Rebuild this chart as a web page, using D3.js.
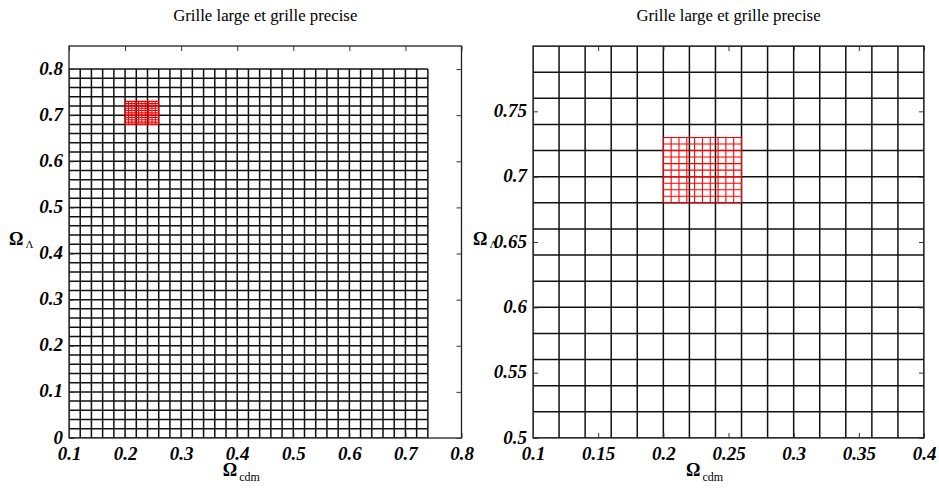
<!DOCTYPE html>
<html>
<head>
<meta charset="utf-8">
<script src="https://cdn.jsdelivr.net/npm/d3@7"></script>
<style>
  body { margin: 0; background: #fff; }
  svg { display: block; }
  svg text { font-family: "Liberation Serif", "Times New Roman", Times, "DejaVu Serif", "Noto Serif", serif; }
</style>
</head>
<body>
<svg id="chart" width="939" height="490"></svg>
<script>
// ---- data ----
const coarseX = [0.10,0.12,0.14,0.16,0.18,0.20,0.22,0.24,0.26,0.28,0.30,0.32,0.34,0.36,0.38,0.40,
                 0.42,0.44,0.46,0.48,0.50,0.52,0.54,0.56,0.58,0.60,0.62,0.64,0.66,0.68,0.70,0.72,0.74];
const coarseY = [0.00,0.02,0.04,0.06,0.08,0.10,0.12,0.14,0.16,0.18,0.20,0.22,0.24,0.26,0.28,0.30,
                 0.32,0.34,0.36,0.38,0.40,0.42,0.44,0.46,0.48,0.50,0.52,0.54,0.56,0.58,0.60,0.62,
                 0.64,0.66,0.68,0.70,0.72,0.74,0.76,0.78,0.80];
const fineX = [0.200,0.206,0.212,0.218,0.224,0.230,0.236,0.242,0.248,0.254,0.260];
const fineY = [0.680,0.685,0.690,0.695,0.700,0.705,0.710,0.715,0.720,0.725,0.730];

const leftXTicks = [0.1,0.2,0.3,0.4,0.5,0.6,0.7,0.8];
const leftYTicks = [0,0.1,0.2,0.3,0.4,0.5,0.6,0.7,0.8];
const rightXTicks = [0.1,0.15,0.2,0.25,0.3,0.35,0.4];
const rightYTicks = [0.5,0.55,0.6,0.65,0.7,0.75];
const leftXDomain = [0.1, 0.8], leftYDomain = [0, 0.85];
const rightXDomain = [0.1, 0.4], rightYDomain = [0.5, 0.8];
const titleText = "Grille large et grille precise";

// ---- drawing ----
const SERIF = '"Liberation Serif", "Times New Roman", Times, "DejaVu Serif", "Noto Serif", serif';
const svg = d3.select("#chart");
const defs = svg.append("defs");

function panel(id, x0, x1, y0, y1, xDom, yDom, xTicks, yTicks) {
  const x = d3.scaleLinear().domain(xDom).range([x0, x1]);
  const y = d3.scaleLinear().domain(yDom).range([y1, y0]);
  defs.append("clipPath").attr("id", "clip" + id)
    .append("rect").attr("x", x0).attr("y", y0).attr("width", x1 - x0).attr("height", y1 - y0);
  const g = svg.append("g");
  const plot = g.append("g").attr("clip-path", `url(#clip${id})`);

  function grid(xs, ys, color, w) {
    const gg = plot.append("g").attr("stroke", color).attr("stroke-width", w).attr("fill", "none");
    const xmin = d3.min(xs), xmax = d3.max(xs), ymin = d3.min(ys), ymax = d3.max(ys);
    gg.selectAll("line.v").data(xs).join("line").attr("class", "v")
      .attr("x1", d => x(d)).attr("x2", d => x(d)).attr("y1", y(ymin)).attr("y2", y(ymax));
    gg.selectAll("line.h").data(ys).join("line").attr("class", "h")
      .attr("y1", d => y(d)).attr("y2", d => y(d)).attr("x1", x(xmin)).attr("x2", x(xmax));
  }
  grid(coarseX, coarseY, "#111", 1.5);
  grid(fineX, fineY, "#ff0000", 1.1);

  // box
  g.append("rect").attr("x", x0).attr("y", y0).attr("width", x1 - x0).attr("height", y1 - y0)
    .attr("fill", "none").attr("stroke", "#222").attr("stroke-width", 1.3);

  // axes with inward ticks
  const tl = 5;
  const fmt = d => String(d);
  const bx = g.append("g").attr("transform", `translate(0,${y1})`)
    .call(d3.axisBottom(x).tickValues(xTicks).tickSizeInner(-tl).tickSizeOuter(0).tickPadding(9).tickFormat(fmt));
  const tx = g.append("g").attr("transform", `translate(0,${y0})`)
    .call(d3.axisTop(x).tickValues(xTicks).tickSizeInner(-tl).tickSizeOuter(0).tickFormat(""));
  const ly = g.append("g").attr("transform", `translate(${x0},0)`)
    .call(d3.axisLeft(y).tickValues(yTicks).tickSizeInner(-tl).tickSizeOuter(0).tickPadding(6).tickFormat(fmt));
  const ry = g.append("g").attr("transform", `translate(${x1},0)`)
    .call(d3.axisRight(y).tickValues(yTicks).tickSizeInner(-tl).tickSizeOuter(0).tickFormat(""));
  [bx, tx, ly, ry].forEach(a => {
    a.attr("font-family", SERIF);
    a.select(".domain").remove();
    a.selectAll(".tick line").attr("stroke", "#333").attr("stroke-width", 1);
  });
  [bx, ly].forEach(a => a.selectAll(".tick text")
    .style("font-family", SERIF).attr("font-size", 19)
    .attr("font-weight", "bold").attr("font-style", "italic").attr("fill", "#000"));
  bx.selectAll(".tick text").attr("dy", "0.71em").attr("y", 9);
  ly.selectAll(".tick text").attr("dy", null).attr("y", 5);

  // title
  const cx = (x0 + x1) / 2;
  g.append("text").attr("x", cx).attr("y", 21).attr("text-anchor", "middle")
    .style("font-family", SERIF).attr("font-size", 16.8).attr("fill", "#000").text(titleText);

  // x label
  const xl = g.append("text").attr("x", cx - 24).attr("y", 476).attr("text-anchor", "middle")
    .style("font-family", SERIF).attr("fill", "#000");
  xl.append("tspan").attr("font-size", 18).attr("font-weight", "bold").text("Ω");
  xl.append("tspan").attr("font-size", 12).attr("dx", 2).attr("dy", 5).text("cdm");

  // y label
  const yl = g.append("text").attr("x", x0 - 60).attr("y", 245)
    .style("font-family", SERIF).attr("fill", "#000");
  yl.append("tspan").attr("font-size", 18).attr("font-weight", "bold").text("Ω");
  yl.append("tspan").attr("font-size", 11).attr("dx", 2).attr("dy", 3).text("Λ");
}

panel("L", 69, 461.5, 46, 438, leftXDomain, leftYDomain, leftXTicks, leftYTicks);
panel("R", 533, 924, 46, 438, rightXDomain, rightYDomain, rightXTicks, rightYTicks);
</script>
</body>
</html>
